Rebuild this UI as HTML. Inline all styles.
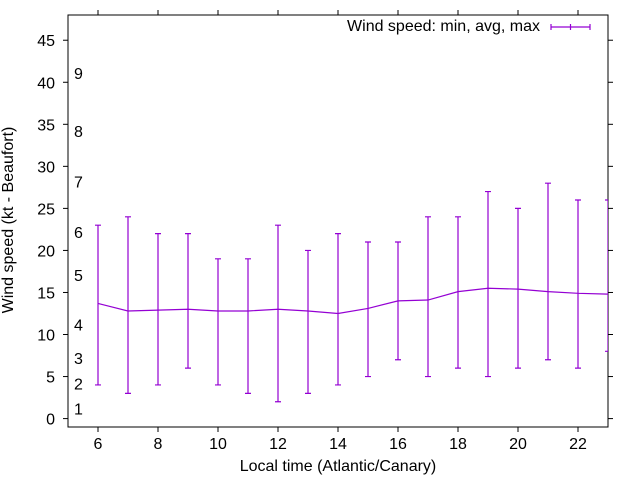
<!DOCTYPE html>
<html><head><meta charset="utf-8"><style>
body{margin:0;background:#fff}
svg text{font-family:"Liberation Sans",sans-serif;font-size:16px;fill:#000}
</style></head><body>
<svg width="640" height="480" viewBox="0 0 640 480" xmlns="http://www.w3.org/2000/svg">
<g id="axes"></g>
<g id="beaufort"></g>
<g id="series"></g>
<text x="13" y="220" text-anchor="middle" transform="rotate(-90 13 220)">Wind speed (kt - Beaufort)</text>
<text x="338" y="471" text-anchor="middle">Local time (Atlantic/Canary)</text>
<g>
<text x="540" y="31" text-anchor="end">Wind speed: min, avg, max</text>
<g stroke="#9400d3" stroke-width="1.2">
<line x1="551" y1="27" x2="590" y2="27"/><line x1="551" y1="24" x2="551" y2="30"/><line x1="590" y1="24" x2="590" y2="30"/><line x1="570.5" y1="24" x2="570.5" y2="30"/>
</g></g>
</svg>
<script>
const hours=[6,7,8,9,10,11,12,13,14,15,16,17,18,19,20,21,22,23];
const minVals=[4,3,4,6,4,3,2,3,4,5,7,5,6,5,6,7,6,8];
const avgVals=[13.7,12.8,12.9,13.0,12.8,12.8,13.0,12.8,12.5,13.1,14.0,14.1,15.1,15.5,15.4,15.1,14.9,14.8];
const maxVals=[23,24,22,22,19,19,23,20,22,21,21,24,24,27,25,28,26,26];
const xTicks=[6,8,10,12,14,16,18,20,22];
const yTicks=[0,5,10,15,20,25,30,35,40,45];
const bfLabels=["1","2","3","4","5","6","7","8","9"];
const bfVals=[1.2,4.2,7.2,11.2,17.1,22.2,28.2,34.2,41.1];
const L=68,R=608,T=15,B=427,X0=5,X1=23,Y0=-1,Y1=48;
const sx=v=>L+(v-X0)/(X1-X0)*(R-L);
const sy=v=>B-(v-Y0)/(Y1-Y0)*(B-T);
const NS="http://www.w3.org/2000/svg";
function mk(p,t,a){const e=document.createElementNS(NS,t);for(const k in a)e.setAttribute(k,a[k]);p.appendChild(e);return e;}
const ax=document.getElementById('axes');
const fr=mk(ax,'rect',{x:L,y:T,width:R-L,height:B-T,fill:'none',stroke:'#000','stroke-width':1});


xTicks.forEach(v=>{const x=sx(v);
const t1=mk(ax,'line',{x1:x,y1:B,x2:x,y2:B+5,stroke:'#000'});


const t2=mk(ax,'line',{x1:x,y1:T,x2:x,y2:T-5,stroke:'#000'});


const tx=mk(ax,'text',{x:x,y:B+22,'text-anchor':'middle'});tx.textContent=v;

});
yTicks.forEach(v=>{const y=sy(v);
const t1=mk(ax,'line',{x1:L-5,y1:y,x2:L,y2:y,stroke:'#000'});


const t2=mk(ax,'line',{x1:R,y1:y,x2:R+5,y2:y,stroke:'#000'});


const tx=mk(ax,'text',{x:L-13,y:y+6,'text-anchor':'end'});tx.textContent=v;

});
const bf=document.getElementById('beaufort');
bfLabels.forEach((s,i)=>{const tx=mk(bf,'text',{x:74,y:sy(bfVals[i])+6});tx.textContent=s;

});
const sr=document.getElementById('series');
const clip=mk(sr,'clipPath',{id:'cp'});mk(clip,'rect',{x:L,y:T,width:R-L,height:B-T});
const g=mk(sr,'g',{'clip-path':'url(#cp)',stroke:'#9400d3','stroke-width':1.2,fill:'none'});
const line=mk(g,'polyline',{points:hours.map((h,i)=>sx(h)+','+sy(avgVals[i])).join(' ')});


hours.forEach((h,i)=>{const x=sx(h),a=sy(maxVals[i]),b=sy(minVals[i]);
const eb=mk(g,'path',{d:`M${x},${a}V${b}M${x-3},${a}H${x+3}M${x-3},${b}H${x+3}`});

});
</script>
</body></html>
